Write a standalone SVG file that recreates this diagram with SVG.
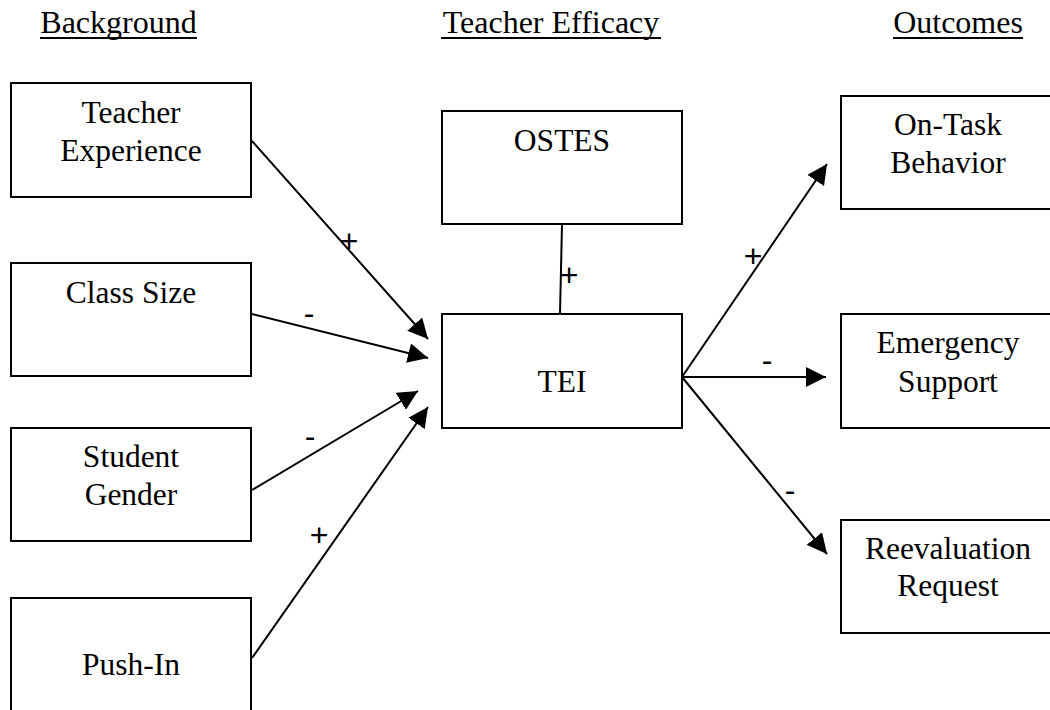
<svg xmlns="http://www.w3.org/2000/svg" width="1050" height="710" viewBox="0 0 1050 710">
<style>
.box{fill:#fff;stroke:#000;stroke-width:2}
.t{font-family:"Liberation Serif","Times New Roman",serif;font-size:31.5px;fill:#000;text-anchor:middle}
.h{font-family:"Liberation Serif","Times New Roman",serif;font-size:32px;fill:#000;text-anchor:middle}
.ul{stroke:#000;stroke-width:2}
.c{stroke:#000;stroke-width:2;fill:none}
.l{font-family:"Liberation Sans",Arial,sans-serif;font-size:32px;fill:#000;text-anchor:middle}
</style>
<defs>
<marker id="arr" markerUnits="userSpaceOnUse" markerWidth="20" markerHeight="20" refX="20" refY="10" orient="auto" viewBox="0 0 20 20">
<path d="M0,0 L20,10 L0,20 z" fill="#000"/>
</marker>
</defs>
<rect width="1050" height="710" fill="#fff"/>
<g id="headers">
<text class="h" x="118.5" y="33">Background</text>
<line class="ul" x1="40" y1="38" x2="197" y2="38"/>
<text class="h" x="551" y="33">Teacher Efficacy</text>
<line class="ul" x1="441" y1="38" x2="661" y2="38"/>
<text class="h" x="958" y="33">Outcomes</text>
<line class="ul" x1="893" y1="38" x2="1023" y2="38"/>
</g>
<g id="connectors">
<line class="c" x1="252" y1="141" x2="428" y2="339" marker-end="url(#arr)"/>
<line class="c" x1="252" y1="314" x2="428" y2="358" marker-end="url(#arr)"/>
<line class="c" x1="252" y1="490" x2="418" y2="391" marker-end="url(#arr)"/>
<line class="c" x1="252" y1="658" x2="428" y2="407" marker-end="url(#arr)"/>
<line class="c" x1="562" y1="224" x2="560" y2="314"/>
<line class="c" x1="682" y1="377" x2="827" y2="164" marker-end="url(#arr)"/>
<line class="c" x1="682" y1="377" x2="826" y2="377" marker-end="url(#arr)"/>
<line class="c" x1="682" y1="377" x2="827" y2="554" marker-end="url(#arr)"/>
<text class="l" x="349" y="252">+</text>
<text class="l" x="309" y="324">-</text>
<text class="l" x="310" y="447">-</text>
<text class="l" x="319" y="546">+</text>
<text class="l" x="569" y="286">+</text>
<text class="l" x="753" y="267">+</text>
<text class="l" x="767" y="371">-</text>
<text class="l" x="790" y="501">-</text>
</g>
<g id="teacher-experience">
<rect class="box" x="11" y="83" width="240" height="114"/>
<text class="t" x="131" y="123">Teacher</text>
<text class="t" x="131" y="161">Experience</text>
</g>
<g id="class-size">
<rect class="box" x="11" y="263" width="240" height="113"/>
<text class="t" x="131" y="303">Class Size</text>
</g>
<g id="student-gender">
<rect class="box" x="11" y="428" width="240" height="113"/>
<text class="t" x="131" y="467">Student</text>
<text class="t" x="131" y="505">Gender</text>
</g>
<g id="push-in">
<rect class="box" x="11" y="598" width="240" height="120"/>
<text class="t" x="131" y="675">Push-In</text>
</g>
<g id="ostes">
<rect class="box" x="442" y="111" width="240" height="113"/>
<text class="t" x="562" y="151">OSTES</text>
</g>
<g id="tei">
<rect class="box" x="442" y="314" width="240" height="114"/>
<text class="t" x="562" y="392">TEI</text>
</g>
<g id="on-task-behavior">
<rect class="box" x="841" y="96" width="240" height="113"/>
<text class="t" x="948" y="135">On-Task</text>
<text class="t" x="948" y="173">Behavior</text>
</g>
<g id="emergency-support">
<rect class="box" x="841" y="314" width="240" height="114"/>
<text class="t" x="948" y="353">Emergency</text>
<text class="t" x="948" y="392">Support</text>
</g>
<g id="reevaluation-request">
<rect class="box" x="841" y="520" width="240" height="113"/>
<text class="t" x="948" y="559">Reevaluation</text>
<text class="t" x="948" y="596">Request</text>
</g>
</svg>
